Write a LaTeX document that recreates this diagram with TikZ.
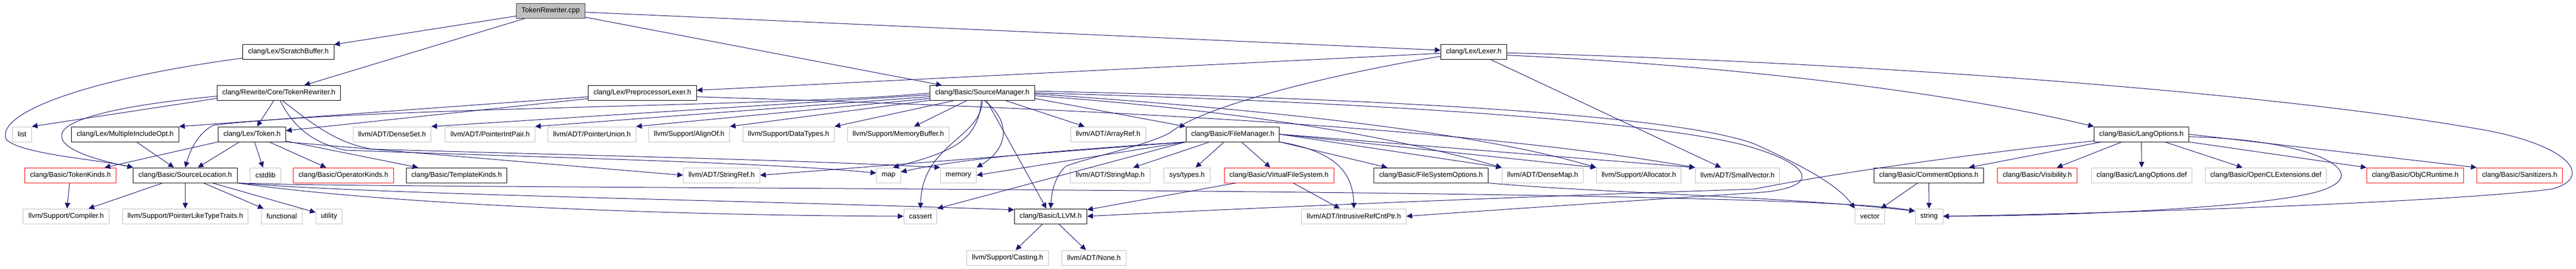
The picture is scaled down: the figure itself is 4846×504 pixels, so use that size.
\documentclass[tikz,border=0pt]{standalone}
\usepackage{fontspec}
\setmainfont{Liberation Sans}
\usetikzlibrary{arrows.meta}
\definecolor{edgeblue}{RGB}{25,25,112}
\definecolor{boxgray}{RGB}{191,191,191}
\definecolor{rootgray}{RGB}{64,64,64}
\begin{document}
\begin{tikzpicture}[x=0.75pt,y=-0.75pt,
    hdr/.style={draw,line width=0.75pt,fill=white,font=\fontsize{10}{12}\selectfont,inner xsep=7.3pt,inner ysep=0pt,minimum height=21pt},
    doc/.style={hdr,draw=black},
    sys/.style={hdr,draw=boxgray},
    trunc/.style={hdr,draw=red},
    root/.style={hdr,draw=rootgray,fill=boxgray},
    inc/.style={draw=edgeblue,line width=0.75pt,-{Triangle[length=8pt,width=7.5pt]}}]
      \useasboundingbox (0,0) rectangle (4846,504);
      \node[root] (cpp) at (1036,20) {TokenRewriter.cpp};
      \node[doc] (scratch) at (542.5,97) {clang/Lex/ScratchBuffer.h};
      \node[doc] (lexer) at (2772.5,97) {clang/Lex/Lexer.h};
      \node[doc] (trh) at (524.5,174.5) {clang/Rewrite/Core/TokenRewriter.h};
      \node[doc] (pplex) at (1208.5,174.5) {clang/Lex/PreprocessorLexer.h};
      \node[doc] (srcmgr) at (1848,174.5) {clang/Basic/SourceManager.h};
      \node[sys] (list) at (41.5,252) {list};
      \node[doc] (mio) at (235.5,252) {clang/Lex/MultipleIncludeOpt.h};
      \node[doc] (token) at (474,252) {clang/Lex/Token.h};
      \node[sys] (denseset) at (737.5,252) {llvm/ADT/DenseSet.h};
      \node[sys] (pip) at (922,252) {llvm/ADT/PointerIntPair.h};
      \node[sys] (punion) at (1113.5,252) {llvm/ADT/PointerUnion.h};
      \node[sys] (alignof) at (1296.5,252) {llvm/Support/AlignOf.h};
      \node[sys] (datatypes) at (1483.5,252) {llvm/Support/DataTypes.h};
      \node[sys] (membuf) at (1690,252) {llvm/Support/MemoryBuffer.h};
      \node[sys] (arrayref) at (2084.5,252) {llvm/ADT/ArrayRef.h};
      \node[doc] (filemgr) at (2319,252) {clang/Basic/FileManager.h};
      \node[doc] (langopts) at (4028.5,252) {clang/Basic/LangOptions.h};
      \node[trunc] (tokkinds) at (132.5,329) {clang/Basic/TokenKinds.h};
      \node[doc] (srcloc) at (348.5,329) {clang/Basic/SourceLocation.h};
      \node[sys] (cstdlib) at (499.5,329) {cstdlib};
      \node[trunc] (opkinds) at (646,329) {clang/Basic/OperatorKinds.h};
      \node[doc] (tplkinds) at (859,329) {clang/Basic/TemplateKinds.h};
      \node[sys] (stringref) at (1357.5,329) {llvm/ADT/StringRef.h};
      \node[sys] (map) at (1671.5,329) {map};
      \node[sys] (memory) at (1803,329) {memory};
      \node[sys] (stringmap) at (2088.5,329) {llvm/ADT/StringMap.h};
      \node[sys] (systypes) at (2233,329) {sys/types.h};
      \node[trunc] (vfs) at (2406,329) {clang/Basic/VirtualFileSystem.h};
      \node[doc] (fsopts) at (2692,329) {clang/Basic/FileSystemOptions.h};
      \node[sys] (densemap) at (2902,329) {llvm/ADT/DenseMap.h};
      \node[sys] (allocator) at (3083,329) {llvm/Support/Allocator.h};
      \node[sys] (smallvec) at (3268.5,329) {llvm/ADT/SmallVector.h};
      \node[doc] (commentopts) at (3628.5,329) {clang/Basic/CommentOptions.h};
      \node[trunc] (visibility) at (3832.5,329) {clang/Basic/Visibility.h};
      \node[sys] (langdef) at (4029,329) {clang/Basic/LangOptions.def};
      \node[sys] (opencl) at (4262.5,329) {clang/Basic/OpenCLExtensions.def};
      \node[trunc] (objcrt) at (4543.5,329) {clang/Basic/ObjCRuntime.h};
      \node[trunc] (sanitizers) at (4740,329) {clang/Basic/Sanitizers.h};
      \node[sys] (compiler) at (124.5,406) {llvm/Support/Compiler.h};
      \node[sys] (pltt) at (348.5,406) {llvm/Support/PointerLikeTypeTraits.h};
      \node[sys] (functional) at (530,406) {functional};
      \node[sys] (utility) at (619,406) {utility};
      \node[sys] (cassert) at (1731.5,406) {cassert};
      \node[doc] (llvmh) at (1976.5,406) {clang/Basic/LLVM.h};
      \node[sys] (irc) at (2547,406) {llvm/ADT/IntrusiveRefCntPtr.h};
      \node[sys] (vector) at (3517.5,406) {vector};
      \node[sys] (string) at (3629,406) {string};
      \node[sys] (casting) at (1895.5,484) {llvm/Support/Casting.h};
      \node[sys] (llnone) at (2058,484) {llvm/ADT/None.h};
      \foreach \a/\b in {cpp/scratch,cpp/trh,cpp/srcmgr,cpp/lexer,trh/token,pplex/token,lexer/pplex,lexer/smallvec,
          srcmgr/membuf,srcmgr/arrayref,srcmgr/llvmh,token/tokkinds,token/srcloc,token/cstdlib,token/opkinds,token/tplkinds,
          mio/srcloc,tokkinds/compiler,srcloc/compiler,srcloc/pltt,srcloc/functional,srcloc/utility,
          filemgr/stringmap,filemgr/systypes,filemgr/vfs,vfs/llvmh,vfs/irc,llvmh/casting,llvmh/llnone,
          langopts/commentopts,langopts/visibility,langopts/langdef,langopts/opencl,commentopts/vector,commentopts/string}
        \draw[inc] (\a) -- (\b);
      \draw[inc] (scratch.-172) .. controls (150,150) and (-10,215) .. (12,262) .. controls (40,290) and (190,300) .. (srcloc.north west);
      \draw[inc] (trh.-175) -- (list.north east);
      \draw[inc] (trh.-177) .. controls (250,195) and (120,220) .. (116,253) .. controls (112,280) and (180,300) .. (srcloc.north west);
      \draw[inc] (trh.-80) .. controls (550,235) and (585,268) .. (650,282) .. controls (1000,295) and (1450,305) .. (map.170);
      \draw[inc] (trh.-65) .. controls (585,230) and (630,268) .. (700,280) .. controls (1100,292) and (1500,300) .. (memory.north west);
      \draw[inc] (pplex.-176) -- (mio.north east);
      \draw[inc] (pplex.-4) .. controls (1900,200) and (2700,230) .. (smallvec.north west);
      \draw[inc] (lexer.-6) .. controls (3300,125) and (3700,180) .. (langopts.north west);
      \draw[inc] (lexer.-172) .. controls (2500,140) and (2260,200) .. (2200,250) .. controls (2150,275) and (2050,295) .. (2005,312)
      			.. controls (1985,330) and (1978,360) .. (llvmh.north);
      \draw[inc] (lexer.-2) .. controls (3600,120) and (4300,180) .. (4650,240) .. controls (4840,270) and (4880,335) .. (4800,355)
      			.. controls (4600,380) and (4000,400) .. (string.east);
      \draw[inc] (srcmgr.west) .. controls (1500,200) and (700,200) .. (402,235) .. controls (370,250) and (355,290) .. (srcloc.north);
      \draw[inc] (srcmgr.182) -- (denseset.north east);
      \draw[inc] (srcmgr.184) -- (pip.north east);
      \draw[inc] (srcmgr.186) -- (punion.north east);
      \draw[inc] (srcmgr.188) -- (alignof.north east);
      \draw[inc] (srcmgr.-165) -- (datatypes.north east);
      \draw[inc] (srcmgr.-97) .. controls (1840,265) and (1790,285) .. (map.60);
      \draw[inc] (srcmgr.-90) .. controls (1845,260) and (1735,270) .. (cassert.north);
      \draw[inc] (srcmgr.-75) .. controls (1905,230) and (1895,280) .. (memory.north east);
      \draw[inc] (srcmgr.-6) -- (filemgr.north west);
      \draw[inc] (srcmgr.-3) .. controls (2300,205) and (2600,250) .. (densemap.north west);
      \draw[inc] (srcmgr.-1) .. controls (2300,200) and (2750,240) .. (allocator.north west);
      \draw[inc] (srcmgr.2) .. controls (2600,185) and (3150,215) .. (3300,270) .. controls (3400,315) and (3460,350) .. (vector.north west);
      \draw[inc] (srcmgr.0) .. controls (2600,192) and (3150,230) .. (3300,278) .. controls (3420,315) and (3420,355) .. (3300,362)
      			.. controls (3100,375) and (2800,395) .. (irc.east);
      \draw[inc] (token.south east) -- (stringref.west);
      \draw[inc] (srcloc.south east) .. controls (700,365) and (1400,376) .. (llvmh.170);
      \draw[inc] (srcloc.south east) .. controls (700,380) and (1200,404) .. (cassert.west);
      \draw[inc] (srcloc.south east) .. controls (700,356) and (3350,350) .. (string.160);
      \draw[inc] (fsopts.south east) .. controls (3000,362) and (3350,368) .. (string.160);
      \draw[inc] (filemgr.south west) -- (stringref.east);
      \draw[inc] (filemgr.south west) .. controls (1950,285) and (1800,300) .. (map.15);
      \draw[inc] (filemgr.south west) -- (memory.east);
      \draw[inc] (filemgr.south west) -- (cassert.north east);
      \draw[inc] (filemgr.south east) .. controls (2520,285) and (2545,330) .. (irc.north);
      \draw[inc] (filemgr.south east) -- (fsopts.170);
      \draw[inc] (filemgr.east) -- (densemap.north west);
      \draw[inc] (filemgr.east) -- (allocator.north west);
      \draw[inc] (filemgr.east) -- (smallvec.north west);
      \draw[inc] (langopts.south east) -- (objcrt.north west);
      \draw[inc] (langopts.east) -- (sanitizers.north west);
      \draw[inc] (langopts.-172) .. controls (3700,290) and (3450,325) .. (3300,355) .. controls (2900,368) and (2400,388) .. (llvmh.east);
      \draw[inc] (langopts.-3) .. controls (4350,262) and (4450,320) .. (4385,350) .. controls (4330,385) and (3950,405) .. (string.east);
\end{tikzpicture}
\end{document}
